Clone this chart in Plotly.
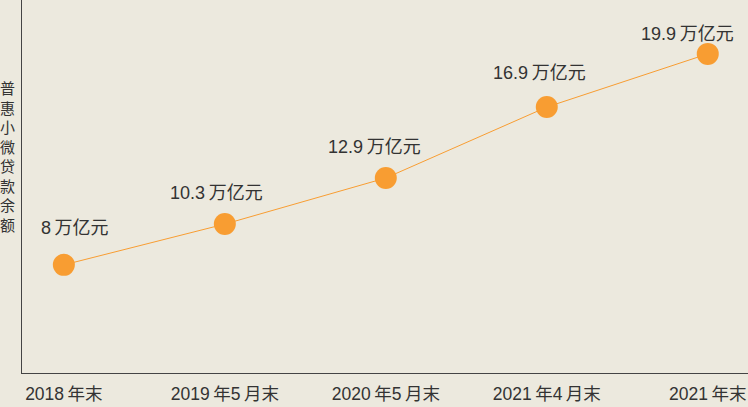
import re
import plotly.graph_objects as go

categories = ["2018年末", "2019年5月末", "2020年5月末", "2021年4月末", "2021年末"]
values = [8, 10.3, 12.9, 16.9, 19.9]
value_labels = ["8万亿元", "10.3万亿元", "12.9万亿元", "16.9万亿元", "19.9万亿元"]
y_title = "普惠小微贷款余额"

label_xshift = [11, -8, -11, -7, -20]
label_yshift = [37, 31, 31, 34, 20]

FONT = "Liberation Sans, Noto Sans CJK SC, sans-serif"
BG = "#ECE9DE"
ORANGE = "#F89D32"


def spaced(s):
    # small visual gap between digits and CJK characters, as in the reference
    return re.sub(r"(\d)([^\d.])", "\\1\u2009\\2", s)


x_idx = list(range(len(categories)))

fig = go.Figure()
fig.add_trace(go.Scatter(
    x=x_idx, y=values, mode="lines+markers",
    line=dict(color=ORANGE, width=1),
    marker=dict(color=ORANGE, size=22),
    hoverinfo="skip", showlegend=False,
))

annotations = []
for i, (v, t) in enumerate(zip(values, value_labels)):
    annotations.append(dict(
        x=i, y=v, xref="x", yref="y", text=spaced(t), showarrow=False,
        yanchor="middle", xanchor="center",
        xshift=label_xshift[i], yshift=label_yshift[i],
        font=dict(family=FONT, size=18, color="#333333"),
    ))
annotations.append(dict(
    x=0, y=0.58, xref="paper", yref="paper",
    text="<br>".join(list(y_title)), showarrow=False,
    xanchor="center", yanchor="middle", xshift=-15,
    font=dict(family=FONT, size=15, color="#333333"),
))

fig.update_layout(
    width=748, height=407,
    margin=dict(l=22, r=0, t=0, b=34),
    paper_bgcolor=BG, plot_bgcolor=BG,
    annotations=annotations,
    xaxis=dict(
        range=[-0.26, 4.25], tickmode="array", tickvals=x_idx,
        ticktext=[spaced(c) for c in categories],
        showgrid=False, zeroline=False, showline=True, linecolor="#444444", linewidth=1,
        ticks="", ticklabelstandoff=5,
        tickfont=dict(family=FONT, size=17.5, color="#333333"), fixedrange=True,
        automargin=False,
    ),
    yaxis=dict(
        range=[1.9, 22.94], showgrid=False, zeroline=False, showline=True,
        linecolor="#444444", linewidth=1, showticklabels=False, ticks="", fixedrange=True,
    ),
)

fig.write_html("out.html", config={"displayModeBar": False},
               post_script="document.body.style.margin='0px';")
